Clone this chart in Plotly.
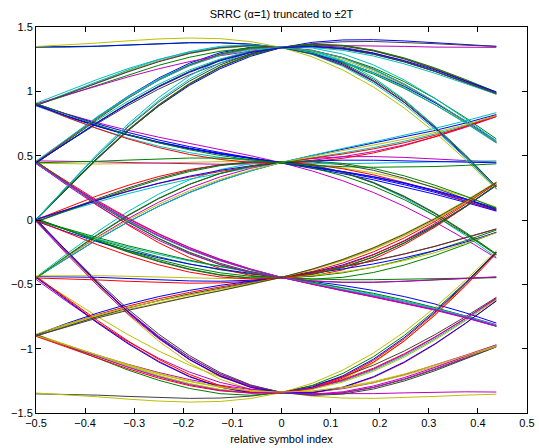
import numpy as np
import plotly.graph_objects as go

# Eye diagram of a 4-PAM signal after SRRC transmit + matched receive filtering
SPS = 16          # samples per symbol
SPAN = 2          # SRRC truncated to +/- SPAN symbol periods

# transmitted 4-PAM symbols (unit-power scaling applied below)
symbols = [3, -1, 1, -3, 3, 3, -1, -3, 1, 1, -1, 3, -3, -1, 1, 3, -3, 3, 1, -1,
           -1, 3, 1, -3, -3, 1, 3, -1, 3, -1, -3, 1, -1, -3, 3, 1, 1, 3, -1, -1,
           3, -3, 1, -3, -1, 3, 3, -1, 1, -1, -3, -3, 3, 1, -1, 1, 3, -3, -1, 3,
           1, -1, -3, 1, 3, 3, -3, -1, 1, -3, 3, -1, -1, 1, -3, 3, 1, 3, -1, -3,
           -1, 1, 1, -3, 3, -3, -1, 3, 1, -1, 3, -1, -3, 1, 3, -3, 1, -1, 3, -1,
           -3, -1, 3, 1, 1, -3, -1, 3]
level_scale = 1 / np.sqrt(5)

# MATLAB-style colour order
line_colors = ["#0000ff", "#008000", "#ff0000", "#00bfbf", "#bf00bf", "#bfbf00", "#404040"]

# square-root raised cosine, alpha = 1, sampled over +/- SPAN
tt = np.arange(-SPAN * SPS, SPAN * SPS + 1) / SPS
den = np.pi * (1 - 16 * tt ** 2)
h = np.where(np.isclose(np.abs(tt), 0.25), 1.0,
             4 * np.cos(2 * np.pi * tt) / np.where(np.isclose(den, 0), 1, den))
pulse = np.convolve(h, h)
pulse = pulse / pulse.max()
half = (len(pulse) - 1) // 2

tx = np.zeros(len(symbols) * SPS)
tx[::SPS] = np.array(symbols) * level_scale
rx = np.convolve(tx, pulse)

t_rel = np.arange(-SPS // 2, SPS // 2) / SPS

fig = go.Figure()
n = 0
for k in range(2 * SPAN, len(symbols) - 2 * SPAN):
    c = k * SPS + half
    seg = rx[c - SPS // 2: c + SPS // 2]
    fig.add_trace(go.Scatter(x=t_rel, y=seg, mode="lines",
                             line=dict(color=line_colors[n % len(line_colors)], width=1),
                             showlegend=False, hoverinfo="skip"))
    n += 1

axis_common = dict(showline=True, linecolor="black", linewidth=1, mirror="ticks",
                   ticks="inside", ticklen=5, tickcolor="black", showgrid=False,
                   zeroline=False, automargin=False,
                   tickfont=dict(size=11, color="black"))

fig.update_layout(
    width=539, height=448,
    margin=dict(l=36, r=12, t=27, b=35),
    paper_bgcolor="white", plot_bgcolor="white",
    font=dict(family="Liberation Sans, Arial, sans-serif", size=11, color="black"),
    title=dict(text="SRRC (α=1) truncated to ±2T", x=0.5, xref="paper",
               y=1 - 14 / 448, yanchor="middle", font=dict(size=11)),
    xaxis=dict(range=[-0.5, 0.5], dtick=0.1, tick0=-0.5,
               title=dict(text="relative symbol index", standoff=7, font=dict(size=11)),
               **axis_common),
    yaxis=dict(range=[-1.5, 1.5], dtick=0.5, tick0=-1.5, **axis_common),
)

fig.write_html("out.html")
